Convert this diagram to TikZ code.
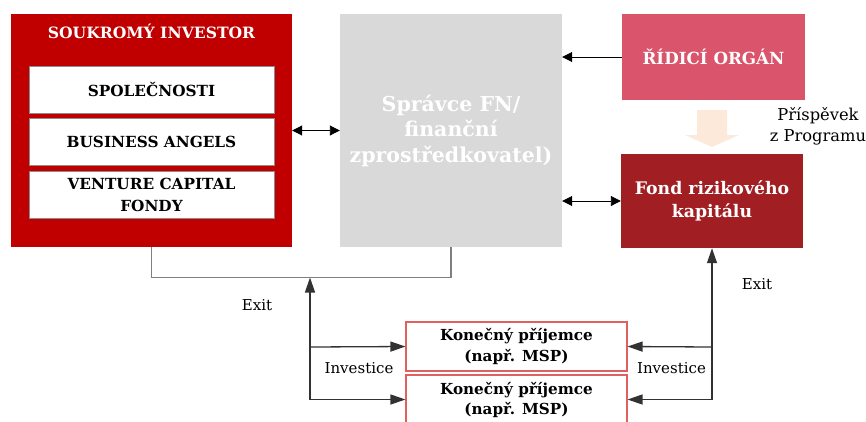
\documentclass[tikz,border=0pt]{standalone}
\usepackage{fontspec}
\setmainfont{DejaVu Serif}
\usetikzlibrary{arrows.meta}
\definecolor{invred}{RGB}{192,0,0}
\definecolor{grayfill}{RGB}{217,217,217}
\definecolor{ridicifill}{RGB}{218,84,107}
\definecolor{fondfill}{RGB}{161,31,34}
\definecolor{peach}{RGB}{253,233,217}
\definecolor{kpborder}{RGB}{224,96,96}
\definecolor{conn}{RGB}{127,127,127}
\definecolor{innerborder}{RGB}{140,140,140}
\definecolor{darkline}{RGB}{50,50,50}
\tikzset{
  bigbox/.style={draw=none, minimum width=#1, inner sep=0pt, align=center, font=\bfseries},
  innerbox/.style={draw=innerborder, line width=1pt, fill=white, minimum width=245pt, minimum height=47pt, inner sep=0pt, align=center, font=\bfseries\fontsize{15.3}{22}\selectfont},
  kpbox/.style={draw=kpborder, line width=1.1pt, fill=white, minimum width=221pt, inner sep=0pt, align=center, font=\bfseries\fontsize{15.2}{20.6}\selectfont},
  arrA/.style={line width=0.9pt, {Triangle[length=10pt,width=10pt]}-{Triangle[length=10pt,width=10pt]}},
  arrB/.style={line width=0.9pt, -{Triangle[length=10pt,width=10pt]}},
  arrC/.style={draw=darkline, line width=1.3pt, -{Triangle[length=15pt,width=10pt]}},
  lbl/.style={font=\fontsize{15}{20}\selectfont, inner sep=0pt, align=center}
}
\begin{document}
\begin{tikzpicture}[x=1pt,y=-1pt]
\useasboundingbox (0,0) rectangle (866,421);
% boxes
\node[bigbox=281pt, fill=invred, minimum height=233pt] (inv) at (151.5,130.5) {};
\node[text=white, font=\bfseries\fontsize{15.6}{18}\selectfont, inner sep=0pt] (invt) at (151.5,31) {SOUKROMÝ INVESTOR};
\node[innerbox] (spol) at (151.5,89.5) {SPOLEČNOSTI};
\node[innerbox] (ba) at (151.5,142) {BUSINESS ANGELS};
\node[innerbox] (vc) at (151.5,195) {VENTURE CAPITAL\\FONDY};
\node[bigbox=222pt, fill=grayfill, minimum height=233pt, text=white, font=\bfseries\fontsize{20.5}{25.5}\selectfont] (spr) at (451,130.5) {Správce FN/\\finanční\\zprostředkovatel)};
\node[bigbox=183pt, fill=ridicifill, minimum height=86pt, text=white, font=\bfseries\fontsize{16.7}{20}\selectfont] (ridici) at (713.5,57) {ŘÍDICÍ ORGÁN};
\node[bigbox=182pt, fill=fondfill, minimum height=94pt, text=white, font=\bfseries\fontsize{17.3}{23}\selectfont] (fond) at (712,201) {Fond rizikového\\kapitálu};
\node[kpbox, minimum height=49pt] (kp1) at (516.5,346.5) {Konečný příjemce\\(např. MSP)};
\node[kpbox, minimum height=50pt] (kp2) at (516.5,400) {Konečný příjemce\\(např. MSP)};
% peach arrow
\fill[peach] (697,110) -- (727,110) -- (727,135) -- (739,135) -- (712,147) -- (685,135) -- (697,135) -- cycle;
\node[lbl, font=\fontsize{16.3}{21}\selectfont] (prisp) at (818,126) {Příspěvek\\z Programu};
% top arrows
\draw[arrB] (ridici.west) -- (spr.east |- ridici.west);
\draw[arrA] (inv.east) -- (spr.west);
\draw[arrA] (spr.east |- fond.west) -- (fond.west);
% exit connector
\coordinate (exitL) at (310,277.5);
\draw[draw=conn, line width=1.6pt] (inv.south) -- (inv.south |- exitL) -| (spr.south);
\coordinate (jL) at (310,399.5);
\coordinate (bL) at (310,347);
\draw[arrC] (jL) -- (exitL);
\draw[arrC] (bL) -- (kp1.west);
\draw[arrC] (jL) -- (kp2.west |- jL);
\coordinate (jR) at (712,399.5);
\coordinate (bR) at (712,347);
\draw[arrC] (jR) -- (fond.south);
\draw[arrC] (bR) -- (kp1.east);
\draw[arrC] (jR) -- (kp2.east |- jR);
% labels
\node[lbl] (exl) at (257,305.5) {Exit};
\node[lbl] (invl) at (359,368) {Investice};
\node[lbl] (invr) at (671.5,368) {Investice};
\node[lbl] (exr) at (757,284) {Exit};
\end{tikzpicture}
\end{document}
